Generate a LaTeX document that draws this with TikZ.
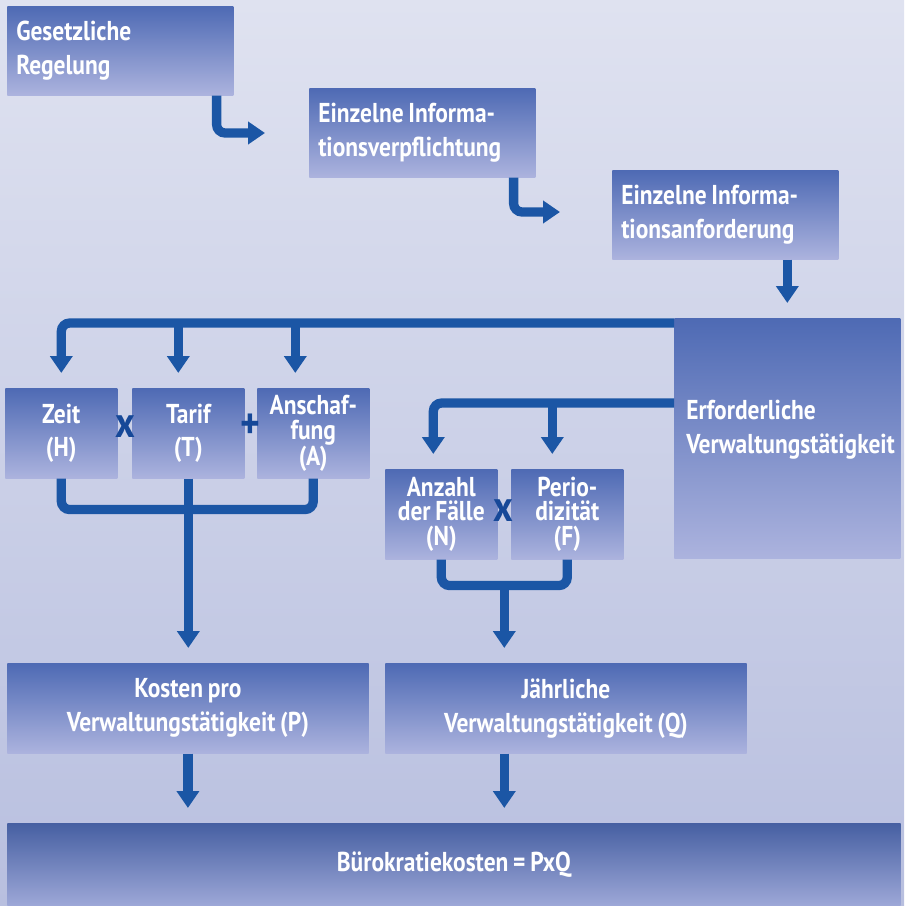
\documentclass[tikz,border=0pt]{standalone}
\usepackage{fontspec}
\setmainfont{PT Sans}[FakeStretch=0.86, WordSpace=0.8]
\usetikzlibrary{arrows.meta,calc}

\definecolor{bgtop}{RGB}{223,226,240}
\definecolor{bgbot}{RGB}{184,191,223}
\definecolor{boxtop}{RGB}{78,106,180}
\definecolor{boxbot}{RGB}{172,179,222}
\definecolor{flowblue}{RGB}{27,86,165}
\definecolor{opblue}{RGB}{22,72,152}

\tikzset{
  box/.style={anchor=north west, inner sep=0pt, top color=boxtop, bottom color=boxbot,
    text=white, font=\bfseries\fontsize{19.4}{24}\selectfont},
  leftbox/.style={box, align=flush left, text width=5.2cm, minimum width=5.65cm, minimum height=2.225cm},
  smallbox/.style={box, align=center, minimum width=2.8cm, minimum height=2.25cm,
    font=\bfseries\fontsize{19.4}{17.6}\selectfont},
  widebox/.style={box, align=center, minimum width=9.03cm, minimum height=2.25cm},
  boxtext/.style={text=white, align=flush left, inner sep=0pt, font=\bfseries\fontsize{19.4}{24}\selectfont},
  op/.style={text=opblue, inner sep=0pt, font=\bfseries\fontsize{31}{31}\selectfont},
  link/.style={draw=flowblue, line width=6.6pt, rounded corners=6pt},
  flow/.style={link, -{Triangle[length=12pt,width=15.5pt]}},
  gap/.style={shorten >=10.7pt}
}

\begin{document}
\begin{tikzpicture}[x=0.025cm, y=-0.025cm]
	\fill[top color=bgtop, bottom color=bgbot] (0,0) rectangle (904,906);
	\useasboundingbox (0,0) rectangle (904,906);

	% Kette oben
	\node[leftbox] (regel) at (7,6) {Gesetzliche\\Regelung};
	\node[leftbox] (verpfl) at (309,88) {Einzelne Informa-\\tionsverpflichtung};
	\node[leftbox] (anford) at (612,170) {Einzelne Informa-\\tionsanforderung};
	\node[box, minimum width=5.65cm, minimum height=6cm] (erford) at (674,318) {};
	\node[boxtext, anchor=west] (erfordtext) at ($(erford.north west)+(12,112)$)
		{Erforderliche\\Verwaltungstätigkeit};

	\coordinate (a1) at (265,133);
	\coordinate (a2) at (560,212);
	\draw[flow] ($(regel.south east)+(-17,0)$) |- (a1);
	\draw[flow] ($(verpfl.south east)+(-22,0)$) |- (a2);
	\draw[flow, gap] (anford.south -| erford.north) -- (erford.north);

	% Preis-Seite
	\node[smallbox] (zeit) at (5,388) {Zeit\\[6pt](H)};
	\node[smallbox] (tarif) at (132,388) {Tarif\\[6pt](T)};
	\node[smallbox] (ansch) at (257,388) {Anschaf-\\fung\\(A)};
	\node[op] (opx1) at (125,427) {x};
	\node[op] (opplus) at (250,426) {+};

	\coordinate (tbar) at ($(erford.north west)+(0,5)$);
	\draw[flow, gap] (tbar) -| (zeit.north);
	\draw[flow, gap] ($(tarif.north |- tbar)+(-10,0)$) -- ($(tarif.north)+(-10,0)$);
	\draw[flow, gap] ($(ansch.north |- tbar)+(-18,0)$) -- ($(ansch.north)+(-18,0)$);

	\node[widebox] (kosten) at (7,663) {Kosten pro\\Verwaltungstätigkeit (P)};
	\draw[link] (zeit.south) |- ($(tarif.south)+(0,31)$) -| (ansch.south);
	\draw[flow, gap] (tarif.south) -- (tarif.south |- kosten.north);

	% Mengen-Seite
	\node[smallbox] (anzahl) at (385,469) {Anzahl\\der Fälle\\(N)};
	\node[smallbox] (period) at (511,469) {Perio-\\dizität\\(F)};
	\node[op] (opx2) at (503,511) {x};

	\coordinate (mbar) at ($(erford.north west)+(0,85)$);
	\draw[flow, gap] (mbar) -| ($(anzahl.north)+(-8,0)$);
	\draw[flow, gap] ($(period.north |- mbar)+(-15,0)$) -- ($(period.north)+(-15,0)$);

	\node[widebox] (jaehrl) at (385,663) {Jährliche\\Verwaltungstätigkeit (Q)};
	\coordinate (nf) at ($(anzahl.south)!0.5!(period.south)+(0,26)$);
	\draw[link] (anzahl.south) |- (nf) -| (period.south);
	\draw[flow, gap] (nf) -- (nf |- jaehrl.north);

	% Ergebnis
	\node[box, align=center, minimum width=22.325cm, minimum height=2.075cm,
		top color=boxtop!90!black, bottom color=boxbot!85!boxtop] (buero) at (7,823)
		{Bürokratiekosten = PxQ};
	\draw[flow, gap] (kosten.south) -- (kosten.south |- buero.north);
	\draw[flow, gap] (jaehrl.south -| nf) -- (nf |- buero.north);
\end{tikzpicture}
\end{document}
